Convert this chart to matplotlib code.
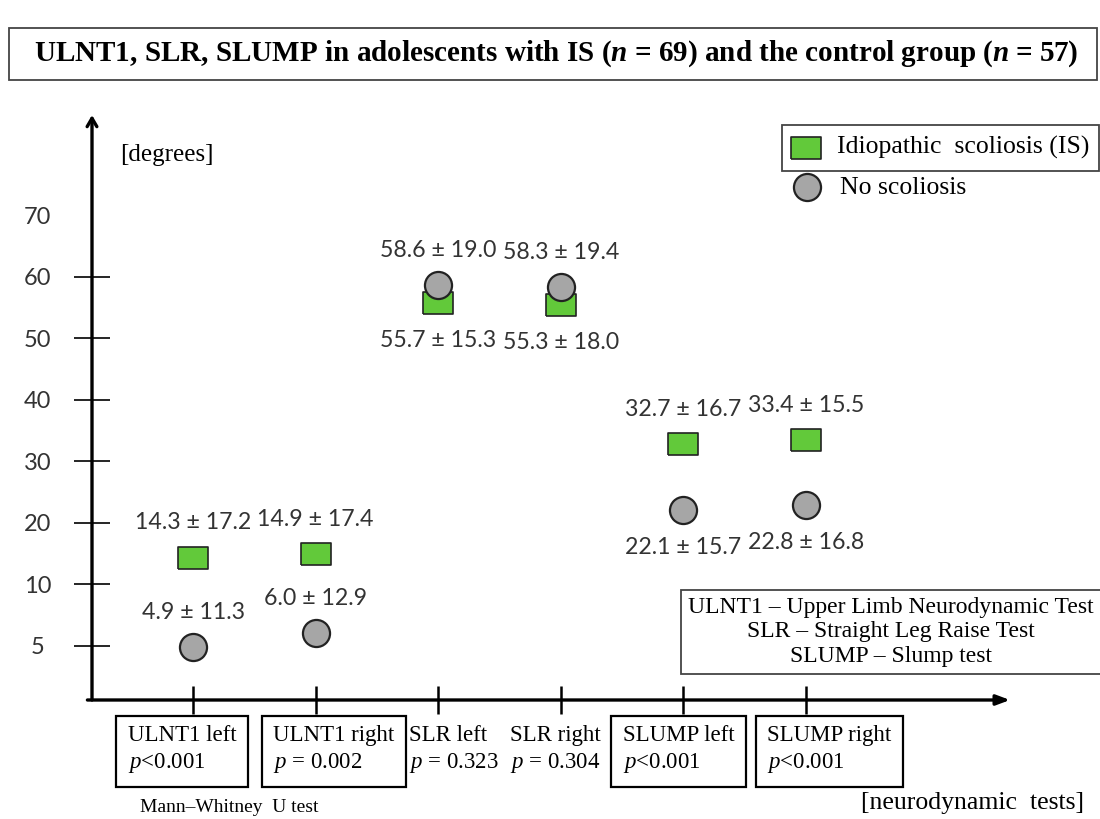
import numpy as np
import matplotlib
matplotlib.use("Agg")
import matplotlib.pyplot as plt
from matplotlib.patches import Rectangle
from matplotlib.lines import Line2D

# Neurodynamic tests (x categories) and Mann-Whitney p-values
tests = ["ULNT1 left", "ULNT1 right", "SLR left", "SLR right", "SLUMP left", "SLUMP right"]
p_text = ["$p$<0.001", "$p$ = 0.002", "$p$ = 0.323", "$p$ = 0.304", "$p$<0.001", "$p$<0.001"]
p_num = [0.001, 0.002, 0.323, 0.304, 0.001, 0.001]

# Idiopathic scoliosis group (mean ± SD, degrees)
is_mean = [14.3, 14.9, 55.7, 55.3, 32.7, 33.4]
is_sd = [17.2, 17.4, 15.3, 18.0, 16.7, 15.5]

# Control group, no scoliosis (mean ± SD, degrees)
ns_mean = [4.9, 6.0, 58.6, 58.3, 22.1, 22.8]
ns_sd = [11.3, 12.9, 19.0, 19.4, 15.7, 16.8]

yticks = [5, 10, 20, 30, 40, 50, 60, 70]

# layout only: where the value labels go and small shifts of the test labels
is_label_above = [True, True, False, False, True, True]
ns_label_above = [True, True, True, True, False, False]
label_dx = [-8, 13, 11, -3.6, -3.6, 17]

green = "#62C93A"
gray = "#A6A6A6"

plt.rcParams["font.family"] = "Liberation Serif"
plt.rcParams["mathtext.fontset"] = "custom"
plt.rcParams["mathtext.rm"] = "Liberation Serif"
plt.rcParams["mathtext.it"] = "Liberation Serif:italic"
plt.rcParams["mathtext.bf"] = "Liberation Serif:bold"
plt.rcParams["mathtext.bfit"] = "Liberation Serif:italic:bold"

W, H = 1100, 819


def fxy(x, y):
    # pixel position (from top left) -> figure fraction
    return x / W, 1 - y / H


fig = plt.figure(figsize=(11, 8.19), dpi=100)
ax = fig.add_axes([92 / W, 1 - 700 / H, 918 / W, 585 / H])


# the drawing stretches the part below 10 degrees
def fwd(y):
    y = np.asarray(y, float)
    return np.where(y < 10, 2 * y - 10, y)


def inv(f):
    f = np.asarray(f, float)
    return np.where(f < 10, (f + 10) / 2, f)


ax.set_yscale("function", functions=(fwd, inv))
ax.set_xlim(-0.824, 6.664)
ax.set_ylim(0.57, 86.26)
for s in ax.spines.values():
    s.set_visible(False)

x = np.arange(len(tests))
rect = [(-1.4, -1), (1.4, -1), (1.4, 1), (-1.4, 1), (-1.4, -1)]
ax.plot(x, is_mean, ls="none", marker=rect, ms=22, mfc=green, mec="#222222", mew=1.2, zorder=3)
ax.plot(x, ns_mean, ls="none", marker="o", ms=19.5, mfc=gray, mec="#222222", mew=1.6, zorder=3)

for i in range(len(tests)):
    for mean, sd, above in ((is_mean[i], is_sd[i], is_label_above[i]),
                            (ns_mean[i], ns_sd[i], ns_label_above[i])):
        ax.annotate(f"{mean:.1f} ± {sd:.1f}", (x[i], mean),
                    xytext=(0, 25 if above else -27), textcoords="offset points",
                    ha="center", va="center", fontfamily="Lato", fontsize=16.7, color="#333333")

# axes with arrows
ax.annotate("", xy=(0, 1), xytext=(0, 0), xycoords="axes fraction",
            arrowprops=dict(arrowstyle="->,head_length=0.6,head_width=0.35", lw=2.4,
                            color="black", shrinkA=0, shrinkB=0))
ax.annotate("", xy=(1, 0), xytext=(-0.005, 0), xycoords="axes fraction",
            arrowprops=dict(arrowstyle="-|>,head_length=0.8,head_width=0.3", lw=2.4,
                            color="black", shrinkA=0, shrinkB=0))

ax.set_xticks(x)
ax.set_xticklabels([])
ax.tick_params(axis="x", direction="inout", length=20, width=1.8, color="black")
ax.set_yticks(yticks)
ax.set_yticklabels([str(t) for t in yticks], fontfamily="Lato", fontsize=17,
                   color="#333333", ha="center")
ax.tick_params(axis="y", direction="inout", length=26, width=1.2, pad=26, color="black")
ax.yaxis.get_major_ticks()[-1].tick1line.set_visible(False)

# test names with p-values, boxed when significant
for i in range(len(tests)):
    box = None
    if p_num[i] < 0.05:
        box = dict(boxstyle="square,pad=0.5", fc="white", ec="black", lw=1.6)
    ax.annotate(f"{tests[i]}\n{p_text[i]}", (x[i], 0), xycoords=("data", "axes fraction"),
                xytext=(label_dx[i], -18), textcoords="offset points",
                ha="center", va="top", multialignment="left", fontsize=16.5,
                linespacing=1.3, bbox=box, zorder=4)

# title in a box
fig.add_artist(Rectangle(fxy(9, 80), 1088 / W, 52 / H, transform=fig.transFigure,
                         fill=False, ec="#444444", lw=1.3))
fig.text(*fxy(556, 54),
         r"ULNT1, SLR, SLUMP in adolescents with IS ($\mathbfit{n}$ = 69) and the control group ($\mathbfit{n}$ = 57)",
         ha="center", va="center", fontsize=21, fontweight="bold")

# legend
fig.add_artist(Rectangle(fxy(782, 171), 317 / W, 46 / H, transform=fig.transFigure,
                         fill=False, ec="#444444", lw=1.3))
fig.add_artist(Line2D([fxy(806, 148)[0]], [fxy(806, 148)[1]], marker=rect, ms=22, mfc=green,
                      mec="#222222", mew=1.2, transform=fig.transFigure))
fig.add_artist(Line2D([fxy(807, 187)[0]], [fxy(807, 187)[1]], marker="o", ms=19.5, mfc=gray,
                      mec="#222222", mew=1.6, transform=fig.transFigure))
fig.text(*fxy(837, 147), "Idiopathic  scoliosis (IS)", ha="left", va="center", fontsize=18.5)
fig.text(*fxy(840, 188), "No scoliosis", ha="left", va="center", fontsize=18.5)

# abbreviations
fig.text(*fxy(891, 632),
         "ULNT1 – Upper Limb Neurodynamic Test\nSLR – Straight Leg Raise Test\nSLUMP – Slump test",
         ha="center", va="center", fontsize=17, linespacing=1.2,
         bbox=dict(boxstyle="square,pad=0.3", fc="white", ec="#444444", lw=1.3))

fig.text(*fxy(120, 155), "[degrees]", ha="left", va="center", fontsize=18)
fig.text(*fxy(1084, 803), "[neurodynamic  tests]", ha="right", va="center", fontsize=18.5)
fig.text(*fxy(140, 808), "Mann–Whitney  U test", ha="left", va="center", fontsize=14)

fig.savefig("out.png", dpi=100, facecolor="white")
